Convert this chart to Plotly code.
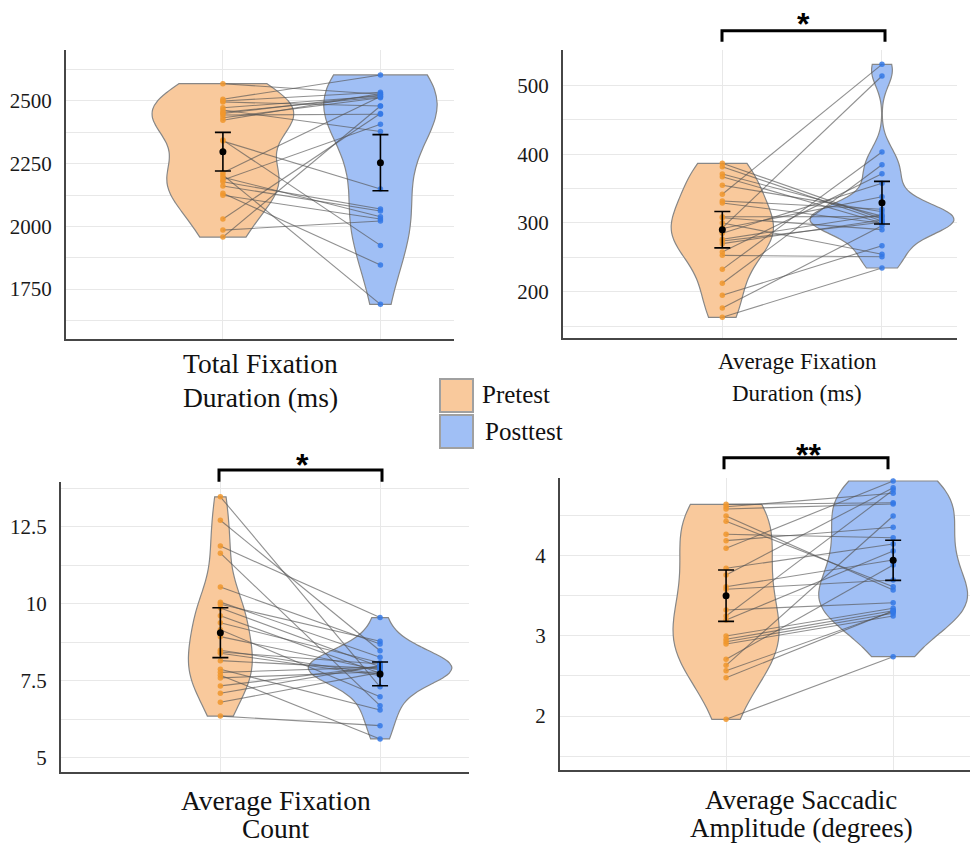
import plotly.graph_objects as go

W, H = 972, 846

# ---------------- data (subject order: pre_i pairs with post_i) ----------------
tfd_pre = [2569, 2507, 2500, 2496, 2473, 2464, 2455, 2444, 2433, 2423, 2450, 2344,
           2340, 2214, 2205, 2196, 2185, 2178, 2161, 2132, 2124, 2029, 1985, 1957]
tfd_post = [2527, 2604, 2535, 2480, 2520, 2378, 2516, 2447, 2513, 2530, 2524, 1924,
            2149, 2518, 1689, 2038, 2407, 2069, 2061, 1846, 2029, 2450, 2021, 2480]

afd_pre = [386.7, 381.8, 371.2, 367.3, 354.8, 341.7, 332, 329, 309, 307.7, 300, 292,
           293, 285, 276.3, 273.9, 270, 257.9, 253, 232.7, 212.4, 195, 176.5, 163]
afd_post = [306, 303, 310, 300, 316.4, 530.5, 319.9, 299.6, 309.2, 290.3, 254.5, 338.2,
            513.5, 357.7, 312, 301, 304.4, 371.6, 251, 403.1, 384.7, 267, 296, 234.6]

afc_pre = [13.48, 12.72, 11.88, 11.65, 10.55, 10.06, 9.99, 9.87, 9.62, 9.39, 9.16, 8.94,
           8.50, 8.44, 8.40, 8.16, 7.88, 7.78, 7.69, 7.60, 7.34, 7.10, 6.81, 6.36]
afc_post = [7.31, 8.48, 9.56, 6.70, 8.70, 8.27, 8.79, 7.96, 7.75, 8.09, 6.99, 7.85,
            7.72, 8.05, 7.68, 7.90, 6.56, 7.95, 5.62, 7.80, 7.97, 8.00, 7.78, 6.05]

asa_pre = [4.634, 4.604, 4.576, 4.489, 4.423, 4.261, 4.182, 4.087, 3.838, 3.755, 3.609, 3.577,
           3.320, 3.245, 3.195, 2.996, 2.955, 2.925, 2.896, 2.706, 2.632, 2.565, 2.478, 1.960]
asa_post = [4.654, 4.771, 4.638, 3.568, 3.609, 4.219, 4.348, 4.924, 4.141, 4.841, 3.942, 3.693,
            3.410, 4.812, 4.053, 3.341, 3.311, 3.279, 3.245, 3.879, 4.489, 3.300, 3.310, 2.739]

# means and error half-widths: [pre, post]
tfd_mean = [2298, 2254]
tfd_err = [77, 112]
afd_mean = [290.3, 329.5]
afd_err = [26.5, 31]
afc_mean = [9.07, 7.73]
afc_err = [0.81, 0.385]
asa_mean = [3.498, 3.938]
asa_err = [0.32, 0.25]

titles = [["Total Fixation", "Duration (ms)"],
          ["Average Fixation", "Duration (ms)"],
          ["Average Fixation", "Count"],
          ["Average Saccadic", "Amplitude (degrees)"]]
legend_labels = ["Pretest", "Posttest"]
sig_labels = ["*", "*", "**"]

# ---------------- styling ----------------
PRE_FILL = "rgb(249,201,156)"
POST_FILL = "rgb(160,191,245)"
PRE_PT = "rgb(240,150,45)"
POST_PT = "rgb(50,120,230)"
OUTLINE = "rgb(135,135,135)"
GRID = "rgb(232,232,232)"
SERIF = "Liberation Serif, Times New Roman, serif"


def X(px):
    return px / W


def Y(py):
    return 1 - py / H


panels = [
    dict(pre=tfd_pre, post=tfd_post, mean=tfd_mean, err=tfd_err,
         dom=(66, 454, 50, 338.5), xr=[-0.996, 1.467], yr=[1552.6, 2703.4],
         dtick=250, minor=125, widths=(0.894, 0.72), bw=(None, 175)),
    dict(pre=afd_pre, post=afd_post, mean=afd_mean, err=afd_err,
         dom=(563, 957, 50, 338.3), xr=[-0.998, 1.47], yr=[132.5, 551.3],
         dtick=100, minor=50, widths=(0.64, 0.90), bw=(None, None)),
    dict(pre=afc_pre, post=afc_post, mean=afc_mean, err=afc_err,
         dom=(61, 469, 481.7, 771.7), xr=[-0.998, 1.557], yr=[4.555, 13.97],
         dtick=2.5, minor=1.25, widths=(0.40, 0.90), bw=(0.85, 0.5)),
    dict(pre=asa_pre, post=asa_post, mean=asa_mean, err=asa_err,
         dom=(560, 970, 477.7, 770), xr=[-0.994, 1.46], yr=[1.33, 4.965],
         dtick=1, minor=0.5, widths=(0.635, 0.89), bw=(None, None)),
]

fig = go.Figure()
layout = dict(width=W, height=H, margin=dict(l=0, r=0, t=0, b=0),
              paper_bgcolor="white", plot_bgcolor="white", showlegend=False,
              font=dict(family=SERIF, color="#1a1a1a"))

for i, p in enumerate(panels, start=1):
    xa = "x" if i == 1 else f"x{i}"
    ya = "y" if i == 1 else f"y{i}"
    n = len(p["pre"])
    # violins
    for k, (vals, fill) in enumerate([(p["pre"], PRE_FILL), (p["post"], POST_FILL)]):
        vk = dict(y=vals, x0=k, width=p["widths"][k], side="both", spanmode="hard",
                  fillcolor=fill, line=dict(color=OUTLINE, width=1.2), opacity=1,
                  points=False, box_visible=False, meanline_visible=False,
                  hoverinfo="skip", xaxis=xa, yaxis=ya, orientation="v")
        if p["bw"][k] is not None:
            vk["bandwidth"] = p["bw"][k]
        fig.add_trace(go.Violin(**vk))
    # paired lines
    lx, ly = [], []
    for a, b in zip(p["pre"], p["post"]):
        lx += [0, 1, None]
        ly += [a, b, None]
    fig.add_trace(go.Scatter(x=lx, y=ly, mode="lines",
                             line=dict(color="rgba(85,85,85,0.65)", width=1.1),
                             hoverinfo="skip", xaxis=xa, yaxis=ya))
    # points
    fig.add_trace(go.Scatter(x=[0] * n, y=p["pre"], mode="markers",
                             marker=dict(color=PRE_PT, size=5.5, opacity=0.85),
                             xaxis=xa, yaxis=ya))
    fig.add_trace(go.Scatter(x=[1] * n, y=p["post"], mode="markers",
                             marker=dict(color=POST_PT, size=5.5, opacity=0.85),
                             xaxis=xa, yaxis=ya))
    # means with error bars
    fig.add_trace(go.Scatter(x=[0, 1], y=p["mean"], mode="markers",
                             marker=dict(color="black", size=7),
                             error_y=dict(type="data", array=p["err"], color="black",
                                          thickness=1.6, width=8),
                             xaxis=xa, yaxis=ya))

    l, r, t, b = p["dom"]
    layout["xaxis" if i == 1 else f"xaxis{i}"] = dict(
        domain=[X(l), X(r)], range=p["xr"], anchor=ya, type="linear",
        tickvals=[0, 1], showticklabels=False, ticks="",
        showgrid=True, gridcolor=GRID, gridwidth=1, zeroline=False,
        showline=True, linecolor="rgb(70,70,70)", linewidth=2, fixedrange=True)
    layout["yaxis" if i == 1 else f"yaxis{i}"] = dict(
        domain=[Y(b), Y(t)], range=p["yr"], anchor=xa, dtick=p["dtick"], tick0=0,
        showgrid=True, gridcolor=GRID, gridwidth=1, zeroline=False,
        minor=dict(dtick=p["minor"], showgrid=True, gridcolor=GRID, gridwidth=1),
        showline=True, linecolor="rgb(70,70,70)", linewidth=2, ticks="",
        ticklabelstandoff=8,
        tickfont=dict(family=SERIF, size=21, color="#1a1a1a"), fixedrange=True)

fig.update_layout(**layout)

# ---------------- titles ----------------
title_pos = [(260, 364, 397, 27.5), (797, 361, 393, 23), (276, 800, 828, 27.5), (801, 800, 828, 27)]
anns = []
for (cx, y1, y2, fs), (t1, t2) in zip(title_pos, titles):
    for yy, tt in [(y1, t1), (y2, t2)]:
        anns.append(dict(x=X(cx), y=Y(yy), xref="paper", yref="paper", text=tt,
                         showarrow=False, xanchor="center", yanchor="middle",
                         font=dict(family=SERIF, size=fs, color="#111")))

# ---------------- legend ----------------
shapes = []
for (y0, y1), fill, lab, (tx, ty) in zip([(379, 412), (415, 448)], [PRE_FILL, POST_FILL],
                                         legend_labels, [(480, 395), (483, 431)]):
    shapes.append(dict(type="rect", xref="paper", yref="paper", x0=X(440), x1=X(473),
                       y0=Y(y1), y1=Y(y0), fillcolor=fill,
                       line=dict(color="rgb(160,160,160)", width=2)))
    anns.append(dict(x=X(tx), y=Y(ty), xref="paper", yref="paper", text=lab,
                     showarrow=False, xanchor="left", yanchor="middle",
                     font=dict(family=SERIF, size=25, color="#111")))

# ---------------- significance brackets ----------------
brackets = [(722, 885, 30.7, 41.7, 803, 16), (219, 382, 470, 481.7, 302, 457),
            (724, 888, 457.7, 469.3, 808, 447)]
for (x0, x1, yt, yb, sx, sy), lab in zip(brackets, sig_labels):
    path = (f"M {X(x0)},{Y(yb)} L {X(x0)},{Y(yt)} L {X(x1)},{Y(yt)} L {X(x1)},{Y(yb)}")
    shapes.append(dict(type="path", xref="paper", yref="paper", path=path,
                       line=dict(color="black", width=3)))
    anns.append(dict(x=X(sx), y=Y(sy + 8), xref="paper", yref="paper", text=f"<b>{lab}</b>",
                     showarrow=False, xanchor="center", yanchor="middle",
                     font=dict(family="Liberation Sans, Arial, sans-serif", size=32, color="black")))

fig.update_layout(annotations=anns, shapes=shapes)
fig.write_html("out.html", config={"displayModeBar": False},
               post_script="document.body.style.margin='0';document.body.style.overflow='hidden';")
